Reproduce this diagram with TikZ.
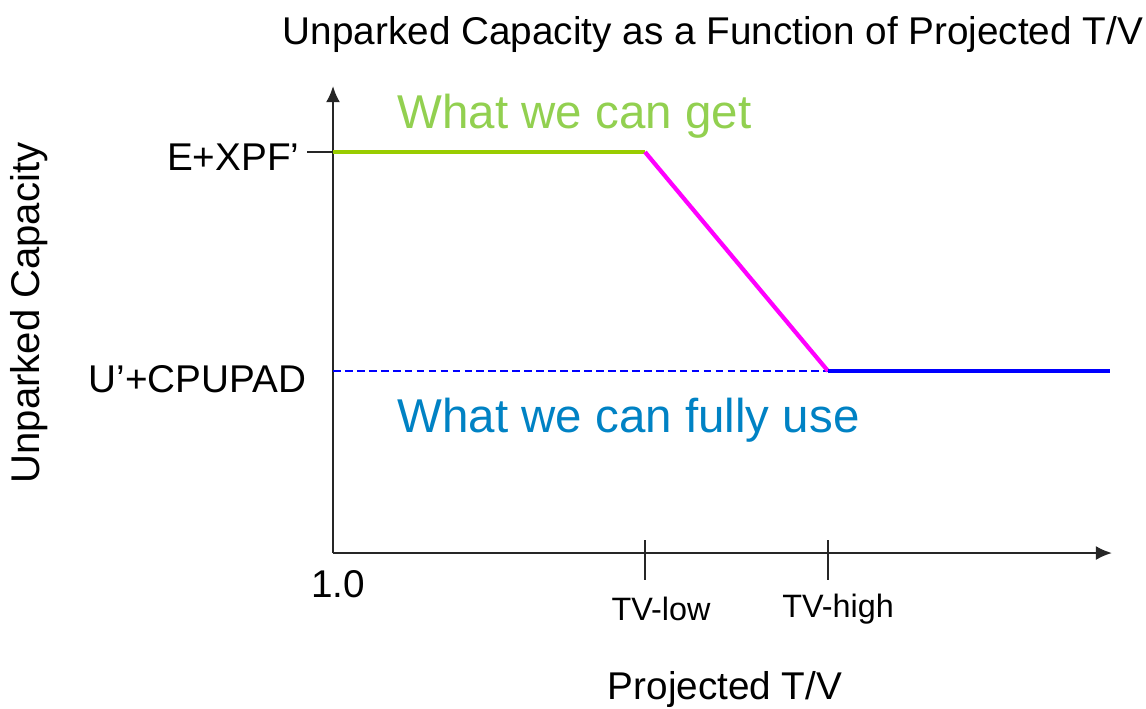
\documentclass[tikz,border=0pt]{standalone}
\usepackage{fontspec}
\setmainfont{Liberation Sans}
\usetikzlibrary{arrows.meta}
\definecolor{getgreen}{RGB}{146,208,80}
\definecolor{linegreen}{RGB}{153,204,0}
\definecolor{usecyan}{RGB}{0,130,196}
\definecolor{kneemagenta}{RGB}{255,0,255}
\begin{document}
\begin{tikzpicture}[x=0.01cm,y=-0.01cm,
	axis/.style={line width=0.6pt,draw=black!85,-{Latex[length=4.6pt,width=4pt]}},
	tickline/.style={line width=0.6pt,draw=black!85},
	lbl/.style={inner sep=0pt,font=\fontsize{11}{13}\selectfont},
	small/.style={inner sep=0pt,font=\fontsize{9.2}{11}\selectfont},
	big/.style={inner sep=0pt,anchor=west,font=\fontsize{13.5}{16}\selectfont}]
	\useasboundingbox (0,0) rectangle (1146,708);
	% axes
	\coordinate (o) at (333,553);
	\coordinate (ytop) at (333,86);
	\coordinate (xend) at (1112,553);
	\draw[axis] (o) -- (ytop);
	\draw[axis] (o) -- (xend);
	% points of the curve
	\coordinate (hi) at (333,152);
	\coordinate (lo) at (333,371);
	\coordinate (knee1) at (645,152);
	\coordinate (knee2) at (828,371);
	\coordinate (tail) at (1110,371);
	\coordinate (hitick) at (307,152);
	\coordinate (lowtop) at (645,540);
	\coordinate (lowbot) at (645,580);
	\coordinate (hightop) at (828,540);
	\coordinate (highbot) at (828,580);
	\draw[tickline] (hitick) -- (hi);
	\draw[tickline] (lowtop) -- (lowbot);
	\draw[tickline] (hightop) -- (highbot);
	\draw[blue,line width=0.4pt,dash pattern=on 2.2pt off 1.2pt] (lo) -- (knee2);
	\draw[linegreen,line width=1.2pt] (hi) -- (knee1);
	\draw[kneemagenta,line width=1.2pt] (knee1) -- (knee2);
	\draw[blue,line width=1.2pt] (knee2) -- (tail);
	% texts
	\node[lbl] (title) at (713,34) {Unparked Capacity as a Function of Projected T/V};
	\node[lbl,rotate=90,font=\fontsize{11.4}{13}\selectfont] (ylabel) at (29,313) {Unparked Capacity};
	\node[lbl] (xlabel) at (725,689) {Projected T/V};
	\node[lbl,anchor=east] (hilbl) at (300,157) {E+XPF’};
	\node[lbl,anchor=east] (lolbl) at (307,379) {U’+CPUPAD};
	\node[lbl] (one) at (338,584) {1.0};
	\node[small] (tvlow) at (661,609) {TV-low};
	\node[small] (tvhigh) at (838,609) {TV-high};
	\node[big,getgreen] (get) at (397,116) {What we can get};
	\node[big,usecyan] (use) at (397,420) {What we can fully use};
\end{tikzpicture}
\end{document}
